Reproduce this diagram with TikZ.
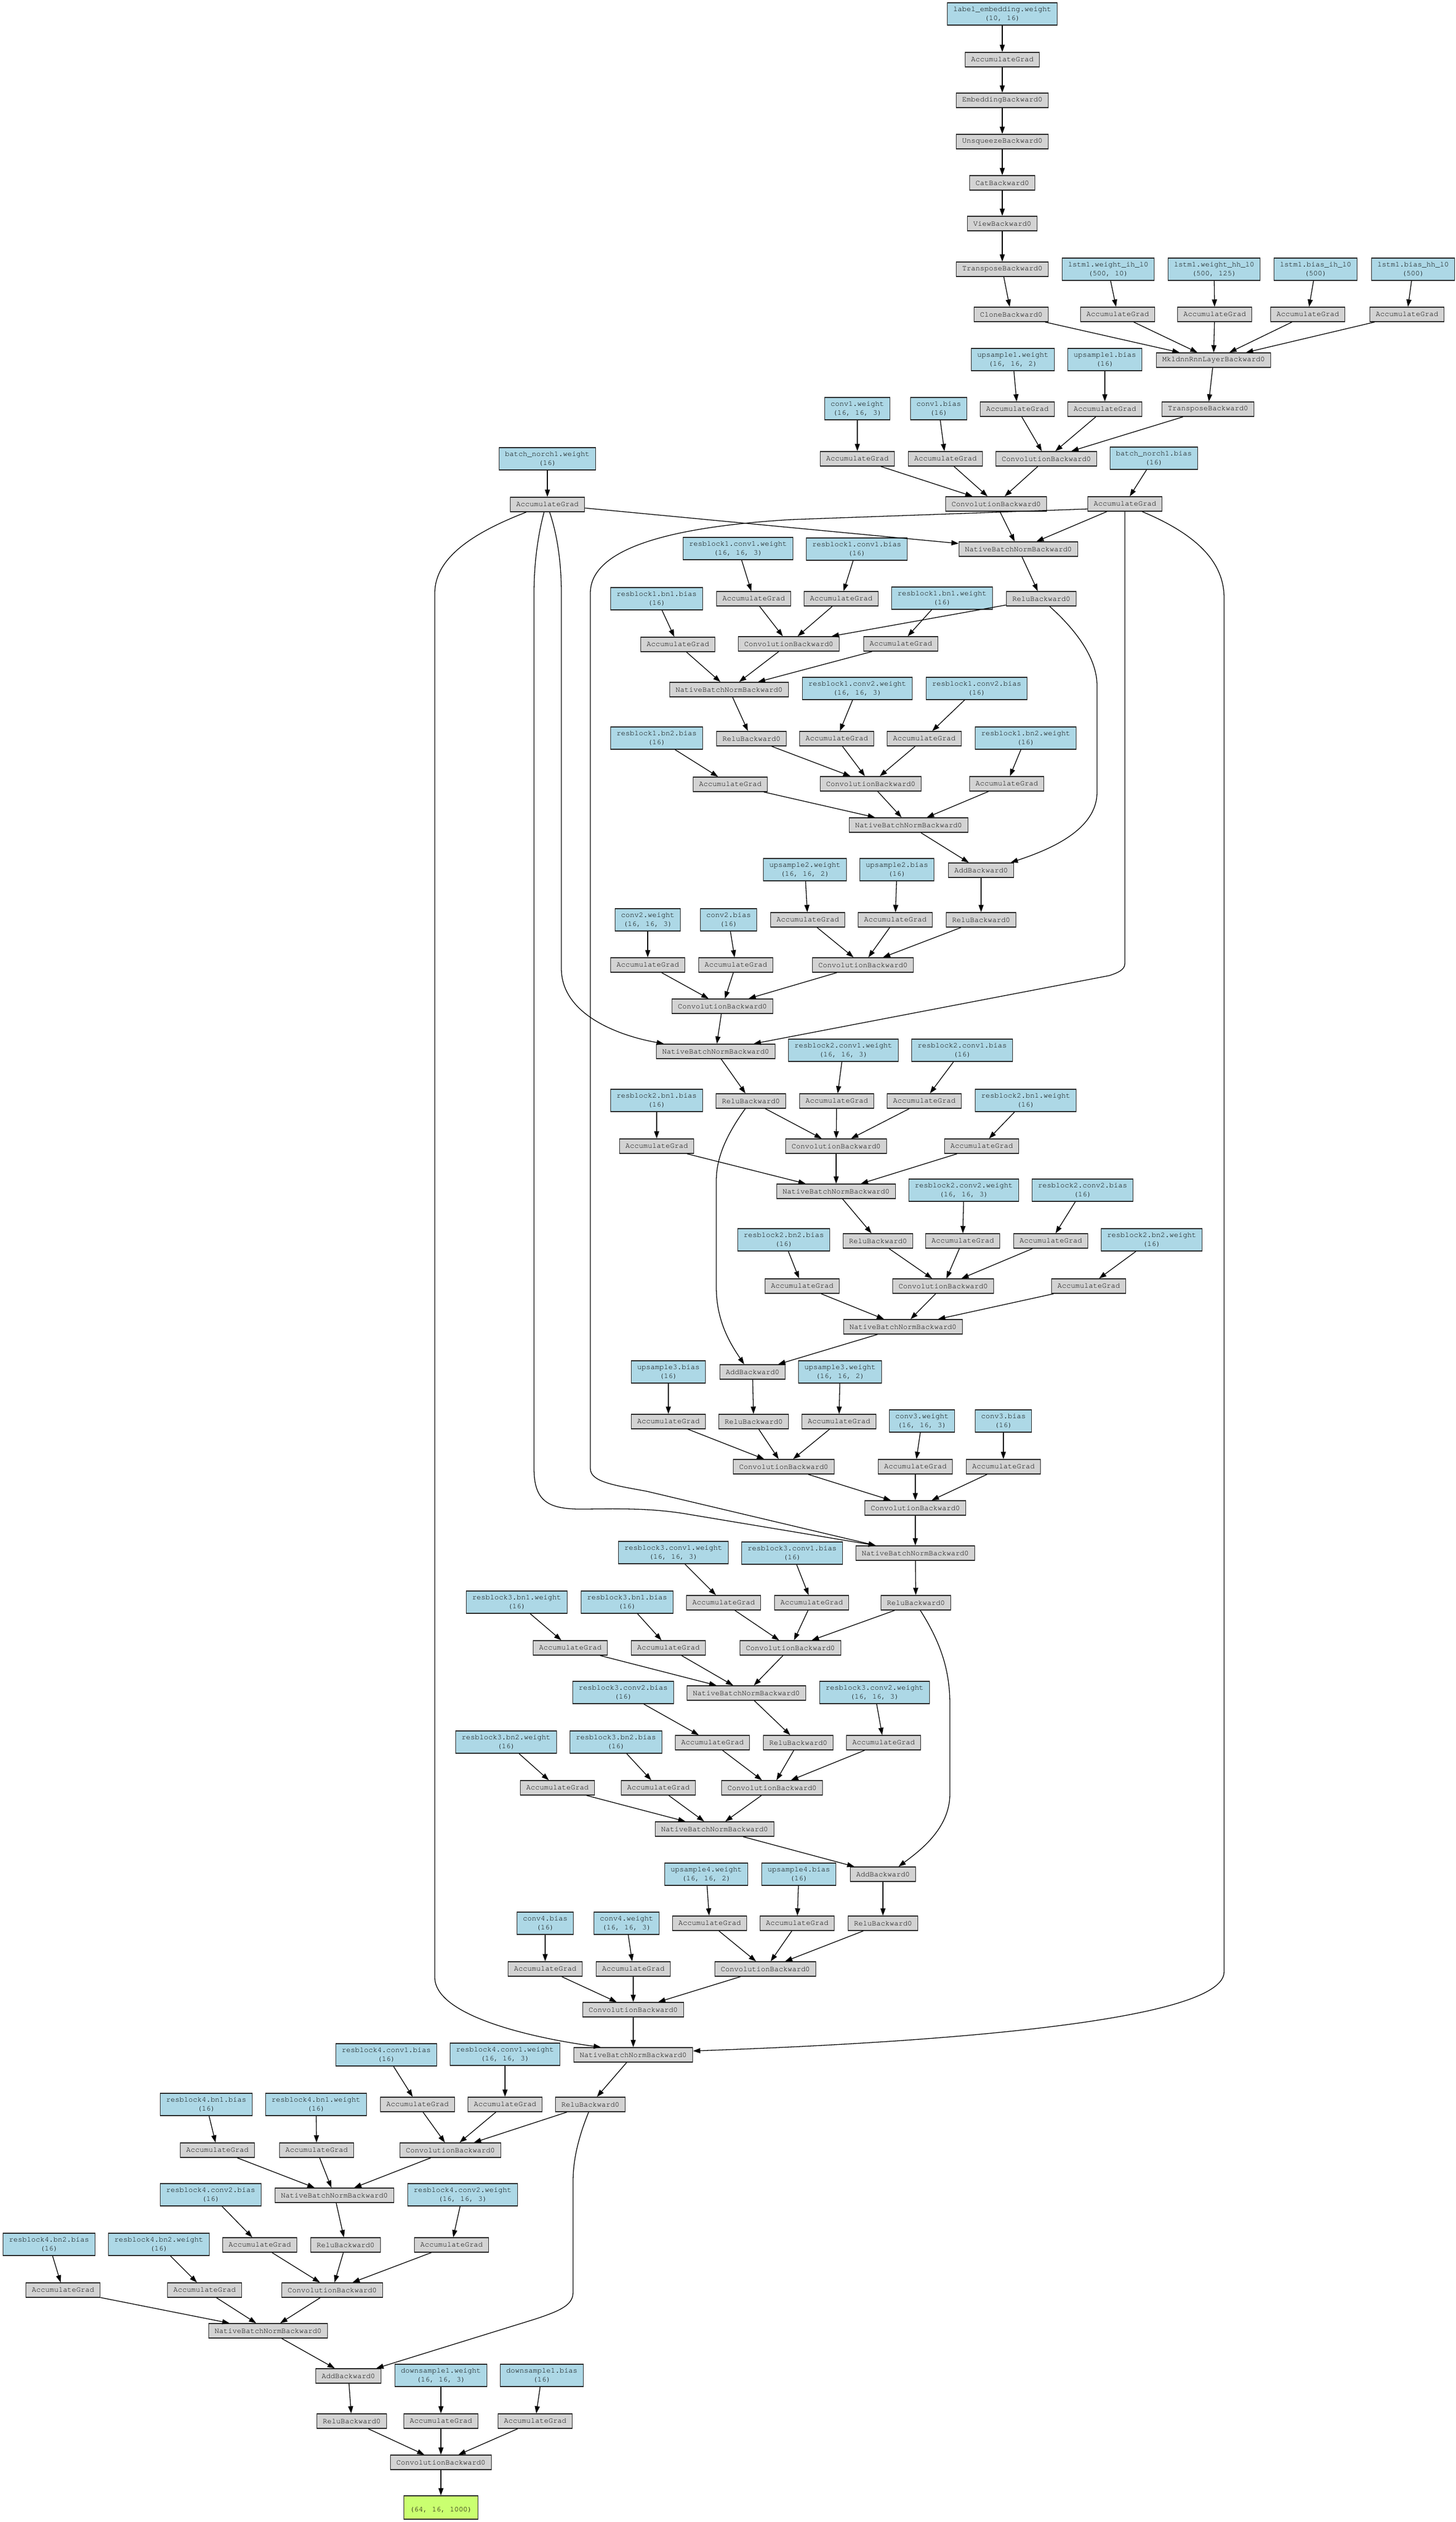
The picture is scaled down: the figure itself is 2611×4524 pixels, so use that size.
\documentclass[tikz,border=0pt]{standalone}
\usepackage{fontspec}
\newfontfamily\monofnt{TeX Gyre Cursor}
\usetikzlibrary{arrows.meta}
\definecolor{LBlue}{HTML}{ADD8E6}
\definecolor{LGray}{HTML}{D3D3D3}
\definecolor{LGreen}{HTML}{CAFF70}
\newcommand{\GN}[3]{\node[grayn] (#1) at (#2) {#3};}
\newcommand{\AG}[2]{\node[grayn] (#1) at (#2) {AccumulateGrad};}
\newcommand{\BN}[4]{\node[bluen] (#1) at (#2) {#3\\#4};}
\newcommand{\ED}[2]{\draw[edge] (#1) -- (#2);}
\begin{document}
\begin{tikzpicture}[x=1pt,y=-1pt,
  base/.style={draw=black!85, line width=1.5pt, inner xsep=10.5pt, inner ysep=0pt,
    font=\monofnt\fontsize{13.33}{16}\selectfont, rectangle},
  grayn/.style={base, fill=LGray, minimum height=26pt},
  bluen/.style={base, fill=LBlue, minimum height=40pt, align=center},
  greenn/.style={base, fill=LGreen, minimum height=42pt, align=center},
  edge/.style={line width=1.3pt, draw=black, -{Triangle[length=13pt,width=9pt]}}]
\path[use as bounding box, fill=white] (0,0) rectangle (2611,4524);

% ---------------- top chain
\BN{lew}{1798,25}{label\_embedding.weight}{(10, 16)}
\AG{ag_le}{1798,107}
\GN{emb}{1798,180}{EmbeddingBackward0}
\GN{unsq}{1798,254}{UnsqueezeBackward0}
\GN{cat}{1798,328}{CatBackward0}
\GN{view}{1798,401}{ViewBackward0}
\GN{trans1}{1798,483}{TransposeBackward0}
\GN{clone}{1814,564}{CloneBackward0}
\BN{wih}{1988,483}{lstm1.weight\_ih\_l0}{(500, 10)}
\AG{ag_wih}{2005,564}
\BN{whh}{2178,483}{lstm1.weight\_hh\_l0}{(500, 125)}
\AG{ag_whh}{2179,564}
\BN{bih}{2360,483}{lstm1.bias\_ih\_l0}{(500)}
\AG{ag_bih}{2346,564}
\BN{bhh}{2535,483}{lstm1.bias\_hh\_l0}{(500)}
\AG{ag_bhh}{2524,564}
\GN{rnn}{2177,646}{MkldnnRnnLayerBackward0}

% ---------------- upsample1 / conv1
\BN{u1w}{1817,645}{upsample1.weight}{(16, 16, 2)}
\BN{u1b}{1982,645}{upsample1.bias}{(16)}
\AG{ag_u1w}{1825,734}
\AG{ag_u1b}{1982,734}
\GN{trans2}{2167,734}{TransposeBackward0}
\GN{cv_u1}{1877,823}{ConvolutionBackward0}
\BN{c1w}{1538,733}{conv1.weight}{(16, 16, 3)}
\BN{c1b}{1684,733}{conv1.bias}{(16)}
\AG{ag_c1w}{1538,823}
\AG{ag_c1b}{1696,823}
\GN{cv_c1}{1787,904}{ConvolutionBackward0}
\BN{bnw}{982,823}{batch\_norch1.weight}{(16)}
\AG{ag_bnw}{982,905}
\BN{bnb}{2070,822}{batch\_norch1.bias}{(16)}
\AG{ag_bnb}{2018,904}
\GN{nbn1}{1827,985}{NativeBatchNormBackward0}

% ---------------- resblock1
\BN{r1c1w}{1324,984}{resblock1.conv1.weight}{(16, 16, 3)}
\BN{r1c1b}{1537,985}{resblock1.conv1.bias}{(16)}
\AG{ag_r1c1w}{1352,1074}
\AG{ag_r1c1b}{1509,1074}
\BN{r1bn1w}{1690,1073}{resblock1.bn1.weight}{(16)}
\GN{relu1}{1868,1074}{ReluBackward0}
\BN{r1bn1b}{1178,1074}{resblock1.bn1.bias}{(16)}
\AG{ag_r1bn1b}{1216,1156}
\GN{cv_r1c1}{1415,1155}{ConvolutionBackward0}
\AG{ag_r1bn1w}{1616,1155}
\GN{nbn_r1a}{1308,1237}{NativeBatchNormBackward0}
\BN{r1c2w}{1538,1235}{resblock1.conv2.weight}{(16, 16, 3)}
\BN{r1c2b}{1752,1235}{resblock1.conv2.bias}{(16)}
\BN{r1bn2b}{1178,1324}{resblock1.bn2.bias}{(16)}
\GN{relu_r1}{1348,1325}{ReluBackward0}
\AG{ag_r1c2w}{1501,1325}
\AG{ag_r1c2b}{1658,1325}
\BN{r1bn2w}{1840,1324}{resblock1.bn2.weight}{(16)}
\AG{ag_r1bn2b}{1310,1407}
\GN{cv_r1c2}{1562,1406}{ConvolutionBackward0}
\AG{ag_r1bn2w}{1806,1406}
\GN{nbn_r1b}{1630,1480}{NativeBatchNormBackward0}
\GN{add1}{1760,1561}{AddBackward0}

% ---------------- upsample2 / conv2
\BN{u2w}{1444,1560}{upsample2.weight}{(16, 16, 2)}
\BN{u2b}{1609,1560}{upsample2.bias}{(16)}
\AG{ag_u2w}{1449,1650}
\AG{ag_u2b}{1606,1650}
\GN{relu2}{1760,1650}{ReluBackward0}
\GN{cv_u2}{1548,1731}{ConvolutionBackward0}
\BN{c2w}{1162,1650}{conv2.weight}{(16, 16, 3)}
\BN{c2b}{1307,1650}{conv2.bias}{(16)}
\AG{ag_c2w}{1162,1731}
\AG{ag_c2b}{1320,1731}
\GN{cv_c2}{1296,1805}{ConvolutionBackward0}
\GN{nbn2}{1284,1886}{NativeBatchNormBackward0}

% ---------------- resblock2
\BN{r2c1w}{1513,1884}{resblock2.conv1.weight}{(16, 16, 3)}
\BN{r2c1b}{1726,1884}{resblock2.conv1.bias}{(16)}
\BN{r2bn1b}{1178,1974}{resblock2.bn1.bias}{(16)}
\GN{relu_r2a}{1347,1975}{ReluBackward0}
\AG{ag_r2c1w}{1501,1975}
\AG{ag_r2c1b}{1658,1975}
\BN{r2bn1w}{1840,1974}{resblock2.bn1.weight}{(16)}
\AG{ag_r2bn1b}{1178,2056}
\GN{cv_r2c1}{1500,2056}{ConvolutionBackward0}
\AG{ag_r2bn1w}{1761,2056}
\GN{nbn_r2a}{1500,2137}{NativeBatchNormBackward0}
\BN{r2c2w}{1729,2135}{resblock2.conv2.weight}{(16, 16, 3)}
\BN{r2c2b}{1942,2135}{resblock2.conv2.bias}{(16)}
\BN{r2bn2b}{1406,2224}{resblock2.bn2.bias}{(16)}
\GN{relu_r2b}{1575,2226}{ReluBackward0}
\AG{ag_r2c2w}{1727,2226}
\AG{ag_r2c2b}{1885,2226}
\BN{r2bn2w}{2066,2224}{resblock2.bn2.weight}{(16)}
\AG{ag_r2bn2b}{1439,2307}
\GN{cv_r2c2}{1692,2307}{ConvolutionBackward0}
\AG{ag_r2bn2w}{1953,2307}
\GN{nbn_r2b}{1620,2380}{NativeBatchNormBackward0}
\GN{add2}{1350,2461}{AddBackward0}

% ---------------- upsample3 / conv3
\BN{u3b}{1199,2461}{upsample3.bias}{(16)}
\BN{u3w}{1507,2461}{upsample3.weight}{(16, 16, 2)}
\AG{ag_u3b}{1199,2550}
\GN{relu3}{1352,2550}{ReluBackward0}
\AG{ag_u3w}{1505,2550}
\GN{cv_u3}{1406,2631}{ConvolutionBackward0}
\BN{c3w}{1654,2549}{conv3.weight}{(16, 16, 3)}
\BN{c3b}{1800,2549}{conv3.bias}{(16)}
\AG{ag_c3w}{1642,2631}
\AG{ag_c3b}{1800,2631}
\GN{cv_c3}{1642,2705}{ConvolutionBackward0}
\GN{nbn3}{1642,2786}{NativeBatchNormBackward0}

% ---------------- resblock3
\BN{r3c1w}{1208,2785}{resblock3.conv1.weight}{(16, 16, 3)}
\BN{r3c1b}{1421,2786}{resblock3.conv1.bias}{(16)}
\BN{r3bn1w}{927,2874}{resblock3.bn1.weight}{(16)}
\BN{r3bn1b}{1125,2874}{resblock3.bn1.bias}{(16)}
\AG{ag_r3c1w}{1298,2875}
\AG{ag_r3c1b}{1456,2875}
\GN{relu_r3a}{1643,2875}{ReluBackward0}
\AG{ag_r3bn1w}{1023,2956}
\AG{ag_r3bn1b}{1199,2956}
\GN{cv_r3c1}{1418,2956}{ConvolutionBackward0}
\GN{nbn_r3a}{1339,3037}{NativeBatchNormBackward0}
\BN{r3c2b}{1118,3036}{resblock3.conv2.bias}{(16)}
\BN{r3c2w}{1569,3036}{resblock3.conv2.weight}{(16, 16, 3)}
\BN{r3bn2w}{908,3125}{resblock3.bn2.weight}{(16)}
\BN{r3bn2b}{1105,3125}{resblock3.bn2.bias}{(16)}
\AG{ag_r3c2b}{1278,3126}
\GN{relu_r3b}{1432,3126}{ReluBackward0}
\AG{ag_r3c2w}{1585,3126}
\AG{ag_r3bn2w}{1000,3207}
\AG{ag_r3bn2b}{1181,3207}
\GN{cv_r3c2}{1385,3207}{ConvolutionBackward0}
\GN{nbn_r3b}{1282,3281}{NativeBatchNormBackward0}
\GN{add3}{1584,3362}{AddBackward0}

% ---------------- upsample4 / conv4
\BN{u4w}{1267,3362}{upsample4.weight}{(16, 16, 2)}
\BN{u4b}{1433,3362}{upsample4.bias}{(16)}
\BN{c4b}{978,3450}{conv4.bias}{(16)}
\BN{c4w}{1124,3450}{conv4.weight}{(16, 16, 3)}
\AG{ag_u4w}{1273,3450}
\AG{ag_u4b}{1430,3450}
\GN{relu4}{1584,3450}{ReluBackward0}
\AG{ag_c4b}{978,3532}
\AG{ag_c4w}{1136,3532}
\GN{cv_u4}{1373,3532}{ConvolutionBackward0}
\GN{cv_c4}{1136,3605}{ConvolutionBackward0}
\GN{nbn4}{1136,3686}{NativeBatchNormBackward0}

% ---------------- resblock4
\BN{r4c1b}{693,3686}{resblock4.conv1.bias}{(16)}
\BN{r4c1w}{906,3685}{resblock4.conv1.weight}{(16, 16, 3)}
\BN{r4bn1b}{370,3775}{resblock4.bn1.bias}{(16)}
\BN{r4bn1w}{567,3775}{resblock4.bn1.weight}{(16)}
\AG{ag_r4c1b}{749,3775}
\AG{ag_r4c1w}{906,3775}
\GN{relu_r4a}{1059,3775}{ReluBackward0}
\AG{ag_r4bn1b}{390,3857}
\AG{ag_r4bn1w}{568,3857}
\GN{cv_r4c1}{808,3857}{ConvolutionBackward0}
\GN{nbn_r4a}{600,3938}{NativeBatchNormBackward0}
\BN{r4c2b}{378,3937}{resblock4.conv2.bias}{(16)}
\BN{r4c2w}{830,3937}{resblock4.conv2.weight}{(16, 16, 3)}
\BN{r4bn2b}{88,4026}{resblock4.bn2.bias}{(16)}
\BN{r4bn2w}{285,4026}{resblock4.bn2.weight}{(16)}
\AG{ag_r4c2b}{466,4027}
\GN{relu_r4b}{620,4027}{ReluBackward0}
\AG{ag_r4c2w}{810,4027}
\AG{ag_r4bn2b}{113,4108}
\AG{ag_r4bn2w}{367,4108}
\GN{cv_r4c2}{596,4108}{ConvolutionBackward0}
\GN{nbn_r4b}{481,4181}{NativeBatchNormBackward0}
\GN{add4}{625,4262}{AddBackward0}
\BN{ds1w}{791,4261}{downsample1.weight}{(16, 16, 3)}
\BN{ds1b}{972,4261}{downsample1.bias}{(16)}
\GN{relu5}{631,4343}{ReluBackward0}
\AG{ag_ds1w}{791,4343}
\AG{ag_ds1b}{960,4343}
\GN{cv_ds}{791,4417}{ConvolutionBackward0}
\node[greenn] (out) at (791,4498) {~\\(64, 16, 1000)};

% ================= edges
\ED{lew}{ag_le}\ED{ag_le}{emb}\ED{emb}{unsq}\ED{unsq}{cat}\ED{cat}{view}
\ED{view}{trans1}\ED{trans1}{clone}\ED{clone}{rnn}
\ED{wih}{ag_wih}\ED{ag_wih}{rnn}\ED{whh}{ag_whh}\ED{ag_whh}{rnn}
\ED{bih}{ag_bih}\ED{ag_bih}{rnn}\ED{bhh}{ag_bhh}\ED{ag_bhh}{rnn}
\ED{rnn}{trans2}\ED{trans2}{cv_u1}\ED{u1w}{ag_u1w}\ED{ag_u1w}{cv_u1}
\ED{u1b}{ag_u1b}\ED{ag_u1b}{cv_u1}
\ED{c1w}{ag_c1w}\ED{ag_c1w}{cv_c1}\ED{c1b}{ag_c1b}\ED{ag_c1b}{cv_c1}\ED{cv_u1}{cv_c1}
\ED{bnw}{ag_bnw}\ED{bnb}{ag_bnb}\ED{cv_c1}{nbn1}
\ED{ag_bnw}{nbn1}\ED{ag_bnb}{nbn1}
% resblock1
\ED{nbn1}{relu1}\ED{r1c1w}{ag_r1c1w}\ED{r1c1b}{ag_r1c1b}\ED{ag_r1c1w}{cv_r1c1}
\ED{ag_r1c1b}{cv_r1c1}\ED{relu1}{cv_r1c1}\ED{r1bn1w}{ag_r1bn1w}\ED{r1bn1b}{ag_r1bn1b}
\ED{ag_r1bn1b}{nbn_r1a}\ED{cv_r1c1}{nbn_r1a}\ED{ag_r1bn1w}{nbn_r1a}\ED{nbn_r1a}{relu_r1}
\ED{r1c2w}{ag_r1c2w}\ED{r1c2b}{ag_r1c2b}\ED{relu_r1}{cv_r1c2}\ED{ag_r1c2w}{cv_r1c2}
\ED{ag_r1c2b}{cv_r1c2}\ED{r1bn2w}{ag_r1bn2w}\ED{r1bn2b}{ag_r1bn2b}\ED{ag_r1bn2b}{nbn_r1b}
\ED{cv_r1c2}{nbn_r1b}\ED{ag_r1bn2w}{nbn_r1b}\ED{nbn_r1b}{add1}
% up2 / conv2
\ED{add1}{relu2}\ED{u2w}{ag_u2w}\ED{ag_u2w}{cv_u2}\ED{u2b}{ag_u2b}\ED{ag_u2b}{cv_u2}
\ED{relu2}{cv_u2}
\ED{c2w}{ag_c2w}\ED{ag_c2w}{cv_c2}\ED{c2b}{ag_c2b}\ED{ag_c2b}{cv_c2}\ED{cv_u2}{cv_c2}
\ED{cv_c2}{nbn2}
% resblock2
\ED{nbn2}{relu_r2a}\ED{r2c1w}{ag_r2c1w}\ED{r2c1b}{ag_r2c1b}\ED{relu_r2a}{cv_r2c1}
\ED{ag_r2c1w}{cv_r2c1}\ED{ag_r2c1b}{cv_r2c1}\ED{r2bn1b}{ag_r2bn1b}\ED{r2bn1w}{ag_r2bn1w}
\ED{ag_r2bn1b}{nbn_r2a}\ED{cv_r2c1}{nbn_r2a}\ED{ag_r2bn1w}{nbn_r2a}\ED{nbn_r2a}{relu_r2b}
\ED{r2c2w}{ag_r2c2w}\ED{r2c2b}{ag_r2c2b}\ED{relu_r2b}{cv_r2c2}\ED{ag_r2c2w}{cv_r2c2}
\ED{ag_r2c2b}{cv_r2c2}\ED{r2bn2b}{ag_r2bn2b}\ED{r2bn2w}{ag_r2bn2w}\ED{ag_r2bn2b}{nbn_r2b}
\ED{cv_r2c2}{nbn_r2b}\ED{ag_r2bn2w}{nbn_r2b}\ED{nbn_r2b}{add2}
% up3 / conv3
\ED{add2}{relu3}\ED{u3b}{ag_u3b}\ED{ag_u3b}{cv_u3}\ED{relu3}{cv_u3}\ED{u3w}{ag_u3w}
\ED{ag_u3w}{cv_u3}
\ED{c3w}{ag_c3w}\ED{ag_c3w}{cv_c3}\ED{c3b}{ag_c3b}\ED{ag_c3b}{cv_c3}\ED{cv_u3}{cv_c3}
\ED{cv_c3}{nbn3}
% resblock3
\ED{nbn3}{relu_r3a}\ED{r3c1w}{ag_r3c1w}\ED{r3c1b}{ag_r3c1b}\ED{ag_r3c1w}{cv_r3c1}
\ED{ag_r3c1b}{cv_r3c1}\ED{relu_r3a}{cv_r3c1}\ED{r3bn1w}{ag_r3bn1w}\ED{r3bn1b}{ag_r3bn1b}
\ED{ag_r3bn1w}{nbn_r3a}\ED{ag_r3bn1b}{nbn_r3a}\ED{cv_r3c1}{nbn_r3a}\ED{nbn_r3a}{relu_r3b}
\ED{r3c2b}{ag_r3c2b}\ED{r3c2w}{ag_r3c2w}\ED{ag_r3c2b}{cv_r3c2}\ED{relu_r3b}{cv_r3c2}
\ED{ag_r3c2w}{cv_r3c2}\ED{r3bn2w}{ag_r3bn2w}\ED{r3bn2b}{ag_r3bn2b}\ED{ag_r3bn2w}{nbn_r3b}
\ED{ag_r3bn2b}{nbn_r3b}\ED{cv_r3c2}{nbn_r3b}\ED{nbn_r3b}{add3}
% up4 / conv4
\ED{add3}{relu4}\ED{u4w}{ag_u4w}\ED{ag_u4w}{cv_u4}\ED{u4b}{ag_u4b}\ED{ag_u4b}{cv_u4}
\ED{relu4}{cv_u4}
\ED{c4b}{ag_c4b}\ED{ag_c4b}{cv_c4}\ED{c4w}{ag_c4w}\ED{ag_c4w}{cv_c4}\ED{cv_u4}{cv_c4}
\ED{cv_c4}{nbn4}
% resblock4
\ED{nbn4}{relu_r4a}\ED{r4c1b}{ag_r4c1b}\ED{r4c1w}{ag_r4c1w}\ED{ag_r4c1b}{cv_r4c1}
\ED{ag_r4c1w}{cv_r4c1}\ED{relu_r4a}{cv_r4c1}\ED{r4bn1b}{ag_r4bn1b}\ED{r4bn1w}{ag_r4bn1w}
\ED{ag_r4bn1b}{nbn_r4a}\ED{ag_r4bn1w}{nbn_r4a}\ED{cv_r4c1}{nbn_r4a}\ED{nbn_r4a}{relu_r4b}
\ED{r4c2b}{ag_r4c2b}\ED{r4c2w}{ag_r4c2w}\ED{ag_r4c2b}{cv_r4c2}\ED{relu_r4b}{cv_r4c2}
\ED{ag_r4c2w}{cv_r4c2}\ED{r4bn2b}{ag_r4bn2b}\ED{r4bn2w}{ag_r4bn2w}\ED{ag_r4bn2b}{nbn_r4b}
\ED{ag_r4bn2w}{nbn_r4b}\ED{cv_r4c2}{nbn_r4b}\ED{nbn_r4b}{add4}
% final
\ED{add4}{relu5}\ED{ds1w}{ag_ds1w}\ED{ag_ds1w}{cv_ds}\ED{ds1b}{ag_ds1b}\ED{ag_ds1b}{cv_ds}
\ED{relu5}{cv_ds}\ED{cv_ds}{out}

% ================= long curved edges
% batch_norch1.weight -> nbn2, nbn3, nbn4
\draw[edge] ([xshift=4pt]ag_bnw.south) .. controls (1000,960) and (1007,1010) .. (1007,1064)
  -- (1007,1737) .. controls (1007,1820) and (1110,1858) .. ([xshift=-93pt]nbn2.north);
\draw[edge] ([xshift=-6pt]ag_bnw.south) .. controls (965,960) and (958,1010) .. (958,1064)
  -- (958,2634) .. controls (958,2695) and (985,2708) .. (1050,2707)
  .. controls (1120,2706) and (1170,2706) .. (1227,2715) -- ([xshift=-71pt]nbn3.north);
\draw[edge] ([xshift=-38pt]ag_bnw.south) .. controls (850,955) and (780,1000) .. (780,1064)
  -- (780,3547) .. controls (780,3615) and (950,3655) .. ([xshift=-58pt]nbn4.north);
% batch_norch1.bias -> nbn2, nbn3, nbn4
\draw[edge] (ag_bnb.south) -- (2018,1728) .. controls (2018,1740) and (2005,1745) .. (1990,1750)
  -- ([xshift=68pt]nbn2.north);
\draw[edge] ([yshift=-9pt]ag_bnb.west) -- (1420,932) .. controls (1150,948) and (1059,1000) .. (1059,1064)
  -- (1059,2634) .. controls (1059,2658) and (1100,2664) .. (1160,2675) -- ([xshift=-71pt]nbn3.north);
\draw[edge] ([xshift=31pt]ag_bnb.south) .. controls (2150,960) and (2196,1010) .. (2196,1073)
  -- (2196,3537) .. controls (2196,3640) and (1500,3670) .. ([yshift=7pt]nbn4.east);
% residual connections
\draw[edge] ([xshift=15pt]relu1.south) .. controls (1930,1130) and (1968,1180) .. (1968,1230)
  -- (1968,1421) .. controls (1968,1490) and (1880,1525) .. ([xshift=53pt]add1.north);
\draw[edge] ([xshift=-10pt]relu_r2a.south) .. controls (1300,2040) and (1285,2080) .. (1285,2118)
  -- (1285,2309) .. controls (1285,2370) and (1310,2410) .. ([xshift=-15pt]add2.north);
\draw[edge] ([xshift=8pt]relu_r3a.south) .. controls (1690,2950) and (1704,3000) .. (1704,3057)
  -- (1704,3218) .. controls (1704,3280) and (1650,3320) .. ([xshift=28pt]add3.north);
\draw[edge] ([xshift=-3pt]relu_r4a.south) .. controls (1035,3840) and (1028,3880) .. (1028,3913)
  -- (1028,4112) .. controls (1028,4135) and (1005,4145) .. (960,4160) -- ([xshift=50pt]add4.north);
\end{tikzpicture}
\end{document}
